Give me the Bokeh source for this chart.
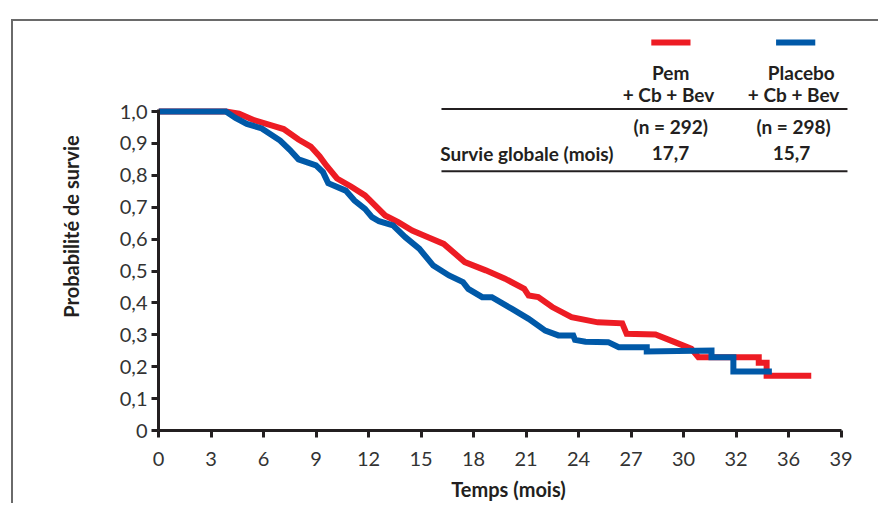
from bokeh.plotting import figure
from bokeh.layouts import column, row
from bokeh.models import Range1d, FixedTicker, Spacer
from bokeh.core.properties import value
from bokeh.embed import file_html
from bokeh.resources import INLINE

# ---- data ----
pem_t = [0, 3.85, 4.6, 5.5, 6.5, 7.15, 8.0, 8.7, 9.2, 9.6, 10.2, 11.0, 11.8, 12.95, 13.7,
         14.5, 15.4, 16.3, 17.5, 18.7, 19.8, 20.9, 21.15, 21.7, 22.5, 23.6, 25.1, 26.5,
         26.75, 28.4, 29.5, 30.45, 30.85, 34.3, 34.3, 34.75, 34.75, 37.3]
pem_s = [1.0, 1.0, 0.993, 0.972, 0.956, 0.945, 0.912, 0.89, 0.86, 0.83, 0.79, 0.765, 0.737,
         0.674, 0.653, 0.627, 0.606, 0.585, 0.528, 0.502, 0.476, 0.444, 0.423, 0.418, 0.387,
         0.355, 0.339, 0.336, 0.303, 0.301, 0.277, 0.256, 0.23, 0.23, 0.212, 0.212, 0.172, 0.172]

pla_t = [0, 3.85, 4.4, 5.05, 5.9, 6.95, 7.5, 8.0, 9.0, 9.4, 9.7, 10.7, 11.2, 11.8, 12.2,
         12.6, 13.4, 14.1, 14.9, 15.7, 16.6, 17.4, 17.7, 18.5, 19.05, 20.2, 21.15, 22.1,
         22.85, 23.7, 23.8, 24.4, 25.7, 26.3, 27.9, 27.9, 31.6, 31.6, 32.85, 32.85, 35.05]
pla_s = [1.0, 1.0, 0.98, 0.961, 0.947, 0.909, 0.88, 0.85, 0.831, 0.81, 0.775, 0.752, 0.721,
         0.695, 0.669, 0.656, 0.643, 0.606, 0.57, 0.517, 0.486, 0.465, 0.444, 0.418, 0.418,
         0.381, 0.35, 0.313, 0.298, 0.298, 0.284, 0.278, 0.277, 0.261, 0.261, 0.248, 0.251,
         0.23, 0.23, 0.185, 0.185]

x_ticks = [0, 3, 6, 9, 12, 15, 18, 21, 24, 27, 30, 33, 36, 39]
x_tick_labels = ["0", "3", "6", "9", "12", "15", "18", "21", "24", "27", "30", "32", "36", "39"]
y_ticks = [0, 0.1, 0.2, 0.3, 0.4, 0.5, 0.6, 0.7, 0.8, 0.9, 1.0]
y_tick_labels = ["0", "0,1", "0,2", "0,3", "0,4", "0,5", "0,6", "0,7", "0,8", "0,9", "1,0"]

group_names = ["Pem", "Placebo"]
group_regimen = ["+ Cb + Bev", "+ Cb + Bev"]
group_n = ["(n = 292)", "(n = 298)"]
group_os = ["17,7", "15,7"]
row_label = "Survie globale (mois)"
colors = ["#ED1C24", "#0059A8"]

x_title = "Temps (mois)"
y_title = "Probabilité de survie"

# ---- figure ----
INK = "#231f20"
FONT = value("Lato")
FRAME_GREY = "#6a6a6a"

p = figure(frame_width=700, frame_height=408,
           x_range=Range1d(0, 40.0), y_range=Range1d(0, 1.279),
           output_backend="svg", toolbar_location=None,
           min_border_left=155, min_border_right=20, min_border_top=12, min_border_bottom=0)
# thin grey page frame (left + top edges) drawn behind the transparent canvas
p.styles = {
    "background-color": "white",
    "background-image": f"linear-gradient({FRAME_GREY}, {FRAME_GREY}), "
                        f"linear-gradient({FRAME_GREY}, {FRAME_GREY})",
    "background-size": "2px 100%, 100% 2px",
    "background-position": "8px 9px, 8px 9px",
    "background-repeat": "no-repeat",
}
p.outline_line_color = None
p.grid.visible = False
p.background_fill_color = "white"
p.border_fill_color = None

for ax in (p.xaxis[0], p.yaxis[0]):
    ax.axis_line_width = 3
    ax.axis_line_color = INK
    ax.major_tick_line_width = 3
    ax.major_tick_line_color = INK
    ax.major_tick_out = 7
    ax.major_tick_in = 0
    ax.minor_tick_line_color = None
    ax.major_label_text_font = "Lato"
    ax.major_label_text_font_size = "20px"
    ax.major_label_text_color = "#333333"
    ax.axis_label_text_font = "Lato"
    ax.axis_label_text_font_size = "20px"
    ax.axis_label_text_font_style = "bold"
    ax.axis_label_text_color = INK

xa = p.xaxis[0]
xa.ticker = FixedTicker(ticks=x_ticks)
xa.major_label_overrides = dict(zip(x_ticks, x_tick_labels))
xa.bounds = (0, 39)
xa.major_label_standoff = 14
xa.axis_label = x_title
xa.axis_label_standoff = 8

ya = p.yaxis[0]
ya.ticker = FixedTicker(ticks=y_ticks)
ya.major_label_overrides = dict(zip(y_ticks, y_tick_labels))
ya.bounds = (0, 1.005)
ya.major_label_standoff = 4
ya.axis_label = y_title
ya.axis_label_standoff = 34

# survival curves
p.line(pem_t, pem_s, line_width=6, line_color=colors[0], line_join="miter")
p.line(pla_t, pla_s, line_width=6, line_color=colors[1], line_join="miter")

# ---- table / legend (layout positions in data space) ----
sw_c = [29.28, 36.41]
sw_half = 1.12
p.segment(x0=[c - sw_half for c in sw_c], x1=[c + sw_half for c in sw_c],
          y0=[1.216, 1.216], y1=[1.216, 1.216], line_width=6, line_color=colors, line_cap="butt")

txt = dict(text_font=FONT, text_font_style="bold", text_font_size="19px",
           text_color=INK, text_baseline="middle")
p.text(x=[29.27, 36.73], y=[1.123, 1.123], text=group_names, text_align="center", **txt)
p.text(x=[29.14, 36.29], y=[1.053, 1.053], text=group_regimen, text_align="center", **txt)
p.text(x=[29.27, 36.29], y=[0.953, 0.953], text=group_n, text_align="center", **txt)
p.text(x=[29.26, 36.17], y=[0.869, 0.869], text=group_os, text_align="center", **txt)
p.text(x=[16.1], y=[0.869], text=[row_label], text_align="left", **txt)

p.segment(x0=[16.17, 16.17], x1=[39.37, 39.37], y0=[1.008, 0.813], y1=[1.008, 0.813],
          line_width=2, line_color=INK)

root = column(Spacer(height=10, width=10), row(Spacer(width=3, height=10), p))
open("out.html", "w").write(file_html(root, INLINE))
